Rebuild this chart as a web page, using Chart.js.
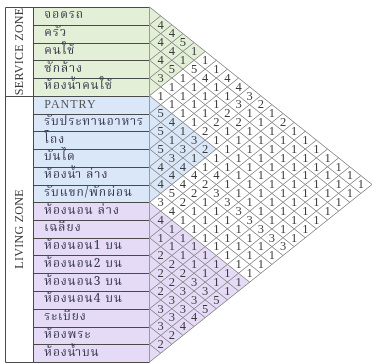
<!DOCTYPE html>
<html><head><meta charset="utf-8">
<script src="https://cdn.jsdelivr.net/npm/chart.js@4.4.1/dist/chart.umd.min.js"></script>
<style>html,body{margin:0;padding:0;background:#fff}canvas{display:block}</style>
</head><body>
<canvas id="c" width="373" height="364"></canvas>
<script>
// ---- data ----
const rowLabels = ['จอดรถ','ครัว','คนใช้','ซักล้าง','ห้องน้ำคนใช้','PANTRY','รับประทานอาหาร','โถง','บันได','ห้องน้ำ ล่าง','รับแขก/พักผ่อน','ห้องนอน ล่าง','เฉลียง','ห้องนอน1 บน','ห้องนอน2 บน','ห้องนอน3 บน','ห้องนอน4 บน','ระเบียง','ห้องพระ','ห้องน้ำบน'];
const zoneNames = ['SERVICE ZONE','LIVING ZONE'];
const zoneStart = [0,5];
const zoneEnd = [5,20];
const groupStart = [0,5,11];
const groupEnd = [5,11,20];
const groupColors = ['#e3efd6','#dae7f8','#e5dbf7'];
// relation values: row i, columns j = i+1 .. 19
const rel00 = [4,4,5,1,1,1,4,4,3,2,1,2,1,1,1,1,1,1,1];
const rel01 = [4,4,1,5,4,1,1,3,1,1,1,1,1,1,1,1,1,1];
const rel02 = [4,5,1,1,1,1,2,2,1,1,1,1,1,1,1,1,1];
const rel03 = [3,1,1,1,1,2,1,1,1,1,1,1,1,1,1,1];
const rel04 = [1,1,1,1,2,1,1,1,1,1,1,1,1,1,1];
const rel05 = [5,4,1,3,2,1,1,1,1,1,1,1,1,1];
const rel06 = [5,1,3,1,1,4,1,1,1,1,1,1,1];
const rel07 = [5,3,4,4,2,3,3,3,3,3,3,3];
const rel08 = [4,4,4,2,1,1,1,1,1,1,1];
const rel09 = [4,5,2,1,1,1,1,1,1,1];
const rel10 = [3,4,1,1,1,1,1,1,1];
const rel11 = [4,1,1,1,1,1,1,1];
const rel12 = [1,1,1,1,1,1,1];
const rel13 = [2,2,2,3,3,5];
const rel14 = [2,2,3,3,5];
const rel15 = [2,3,3,4];
const rel16 = [3,3,4];
const rel17 = [3,2];
const rel18 = [2];
const relations = [rel00,rel01,rel02,rel03,rel04,rel05,rel06,rel07,rel08,rel09,rel10,rel11,rel12,rel13,rel14,rel15,rel16,rel17,rel18];

// ---- layout constants (scale units) ----
const N = rowLabels.length;
const TABLE_LEFT = -13;
const LABEL_LEFT = -10.45;

const cells = [];
relations.forEach((row,i)=>row.forEach((v,k)=>{
  const j = i+1+k;
  cells.push({x:j-i, y:(i+j+1)/2, v:v});
}));

const thaiFont = "'Noto Serif Thai','Norasi','Kinnari','Noto Sans Thai','Garuda','Loma','Liberation Serif',serif";

const matrixPlugin = {
  id:'matrix',
  beforeDatasetsDraw(chart){
    const {ctx} = chart;
    const xs = chart.scales.x, ys = chart.scales.y;
    const X = v=>xs.getPixelForValue(v), Y = v=>ys.getPixelForValue(v);
    ctx.save();
    groupStart.forEach((gs,g)=>{
      const ge = groupEnd[g];
      ctx.fillStyle = groupColors[g];
      ctx.fillRect(X(LABEL_LEFT), Y(gs), X(0)-X(LABEL_LEFT), Y(ge)-Y(gs));
      ctx.beginPath();
      ctx.moveTo(X(0),Y(gs));
      ctx.lineTo(X(ge-gs),Y((gs+ge)/2));
      ctx.lineTo(X(0),Y(ge));
      ctx.closePath();
      ctx.fill();
    });
    ctx.strokeStyle = '#8a8a8a';
    ctx.lineWidth = 1;
    ctx.beginPath();
    for(let a=0;a<=N;a++){
      ctx.moveTo(X(0),Y(a)); ctx.lineTo(X(N-a),Y((N+a)/2));
      ctx.moveTo(X(0),Y(a)); ctx.lineTo(X(a),Y(a/2));
    }
    ctx.stroke();
    ctx.strokeStyle = '#4a4a4a';
    ctx.beginPath();
    for(let a=0;a<=N;a++){
      const yy = Math.round(Y(a))+0.5;
      ctx.moveTo(X(LABEL_LEFT),yy); ctx.lineTo(X(0),yy);
    }
    ctx.stroke();
    ctx.strokeStyle = '#9a9a9a';
    ctx.beginPath();
    ctx.moveTo(Math.round(X(0))-0.5,Y(0)); ctx.lineTo(Math.round(X(0))-0.5,Y(N));
    ctx.stroke();
    ctx.strokeStyle = '#4a4a4a';
    ctx.beginPath();
    const xl = Math.round(X(TABLE_LEFT))+0.5, xz = Math.round(X(LABEL_LEFT))+0.5;
    ctx.moveTo(xl,Math.round(Y(0))+0.5); ctx.lineTo(xl,Math.round(Y(N))+0.5);
    ctx.moveTo(xz,Math.round(Y(0))+0.5); ctx.lineTo(xz,Math.round(Y(N))+0.5);
    zoneStart.forEach((zs,z)=>{
      [zs, zoneEnd[z]].forEach(b=>{
        const yy = Math.round(Y(b))+0.5;
        ctx.moveTo(xl,yy); ctx.lineTo(xz,yy);
      });
    });
    ctx.stroke();
    ctx.fillStyle = '#3c3c3c';
    ctx.font = "12px 'Liberation Serif', serif";
    ctx.textAlign = 'center'; ctx.textBaseline = 'middle';
    zoneNames.forEach((name,z)=>{
      ctx.save();
      ctx.translate((X(TABLE_LEFT)+X(LABEL_LEFT))/2+1, Y((zoneStart[z]+zoneEnd[z])/2));
      ctx.rotate(-Math.PI/2);
      ctx.letterSpacing = '0.3px';
      ctx.fillText(name,0,0);
      ctx.restore();
    });
    ctx.textAlign = 'left';
    rowLabels.forEach((lab,i)=>{
      const isLatin = /^[A-Z ]+$/.test(lab);
      ctx.font = isLatin ? "12px 'Liberation Serif', serif" : "12px "+thaiFont;
      ctx.fillStyle = isLatin ? '#555' : '#35354a';
      ctx.letterSpacing = '1px';
      ctx.fillText(lab, X(LABEL_LEFT)+11, Y(i+0.5)+0.5);
    });
    ctx.letterSpacing = '0px';
    ctx.restore();
  },
  afterDatasetsDraw(chart){
    const {ctx} = chart;
    const meta = chart.getDatasetMeta(0);
    const data = chart.data.datasets[0].data;
    ctx.save();
    ctx.font = "12.5px 'Liberation Serif', serif";
    ctx.fillStyle = '#3a3a3a';
    ctx.textAlign = 'center'; ctx.textBaseline = 'middle';
    meta.data.forEach((pt,k)=>{
      ctx.fillText(String(data[k].v), pt.x, pt.y+0.5);
    });
    ctx.restore();
  }
};

new Chart(document.getElementById('c').getContext('2d'), {
  type:'scatter',
  data:{datasets:[{data:cells, pointRadius:0, pointHoverRadius:0, pointHitRadius:0}]},
  options:{
    responsive:false, animation:false, devicePixelRatio:1,
    layout:{padding:{left:5,top:7,right:1,bottom:2}},
    plugins:{legend:{display:false}, tooltip:{enabled:false}},
    events:[],
    scales:{
      x:{type:'linear', min:TABLE_LEFT, max:N, display:false},
      y:{type:'linear', min:0, max:N, reverse:true, display:false}
    }
  },
  plugins:[matrixPlugin]
});
</script>
</body></html>
